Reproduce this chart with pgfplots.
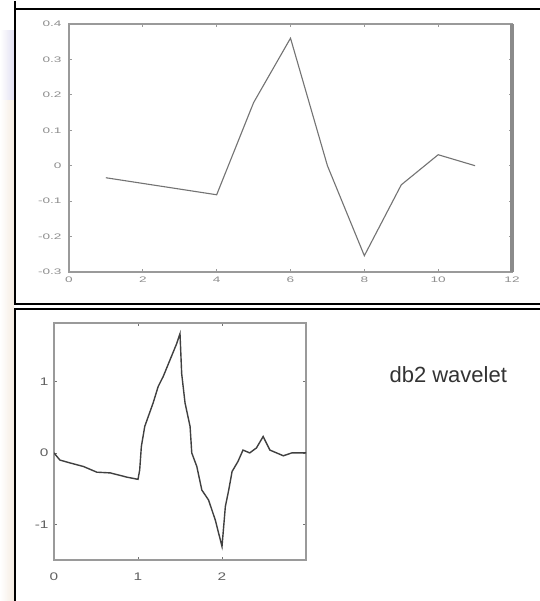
\documentclass[border=0pt]{standalone}
\usepackage{fontspec}
\setmainfont{Liberation Sans}
\newfontfamily\topwide[FakeStretch=1.7]{Liberation Sans}
\newfontfamily\botwide[FakeStretch=1.4]{Liberation Sans}
\usepackage{pgfplots}
\pgfplotsset{compat=1.18}

\definecolor{axgray}{HTML}{9A9A9A}
\definecolor{lblgray}{HTML}{8E8E8E}

\pgfplotstableread{
x y
1 -0.034
4 -0.082
5 0.178
6 0.360
7 0.000
8 -0.254
9 -0.054
10 0.031
11 0.000
}\filtertab

\pgfplotstableread{
x y
0.00 0.00
0.07 -0.10
0.19 -0.14
0.35 -0.19
0.51 -0.27
0.67 -0.28
0.87 -0.34
1.00 -0.37
1.02 -0.24
1.04 0.09
1.08 0.37
1.18 0.70
1.24 0.93
1.30 1.07
1.38 1.30
1.46 1.53
1.50 1.67
1.52 1.11
1.56 0.70
1.62 0.37
1.64 0.00
1.70 -0.19
1.76 -0.52
1.84 -0.66
1.92 -0.94
2.00 -1.31
2.04 -0.75
2.08 -0.52
2.12 -0.26
2.19 -0.12
2.25 0.04
2.33 0.00
2.41 0.07
2.49 0.23
2.57 0.04
2.65 0.00
2.73 -0.04
2.83 0.00
3.00 0.00
}\wavetab

\begin{document}
\begin{tikzpicture}[x=1pt,y=1pt]
\useasboundingbox (0,0) rectangle (539,601);
\fill[white] (0,0) rectangle (539,601);
% faded slide background at the left edge
\fill[left color=white, right color={rgb,255:red,226;green,224;blue,242}] (0,500) rectangle (14,570);
\fill[left color=white, right color={rgb,255:red,245;green,236;blue,226}] (0,0) rectangle (14,500);

% panel frames
\draw[line width=2.5pt] (15,600) -- (15,297) -- (540,297);
\draw[line width=2.5pt] (15,-2) -- (15,292) -- (540,292);
\draw[line width=2.5pt] (540,592) -- (15,592) -- (15,298);

\begin{axis}[
  at={(69pt,329pt)}, anchor=south west,
  scale only axis, width=443pt, height=248pt,
  xmin=0, xmax=12, ymin=-0.3, ymax=0.4,
  xtick={0,2,4,6,8,10,12},
  xticklabels={0,2,4,6,8,10,12},
  ytick={-0.3,-0.2,-0.1,0,0.1,0.2,0.3,0.4},
  yticklabels={-0.3,-0.2,-0.1,0,0.1,0.2,0.3,0.4},
  tick align=inside, major tick length=3pt,
  tick style={axgray, line width=0.8pt},
  axis line style={axgray, line width=1.2pt},
  ticklabel style={font=\topwide\fontsize{8}{8}\selectfont, text=lblgray},
  xticklabel style={yshift=-1pt},
  yticklabel style={xshift=-4pt},
  clip=false,
]
\addplot[color=black!55, line width=1.1pt] table {\filtertab};
\draw[axgray!90!black, line width=4pt] (rel axis cs:1,0) -- (rel axis cs:1,1);
\end{axis}

\begin{axis}[
  at={(54pt,41pt)}, anchor=south west,
  scale only axis, width=252pt, height=237pt,
  xmin=0, xmax=3, ymin=-1.5, ymax=1.82,
  xtick={0,1,2,3}, xticklabels={0,1,2,},
  ytick={-1,0,1}, yticklabels={-1,0,1},
  tick align=inside, major tick length=3pt,
  tick style={black!55, line width=0.8pt},
  axis line style={axgray, line width=1.3pt},
  ticklabel style={font=\botwide\fontsize{11}{11}\selectfont, text=black!62},
  xticklabel style={yshift=-9pt},
  yticklabel style={xshift=-2pt},
]
\addplot[color=black!75, line width=1.4pt] table {\wavetab};
\end{axis}

\node[anchor=base west, font=\fontsize{22}{22}\selectfont, text=black!80] at (386,218) {db2 wavelet};
\end{tikzpicture}
\end{document}
